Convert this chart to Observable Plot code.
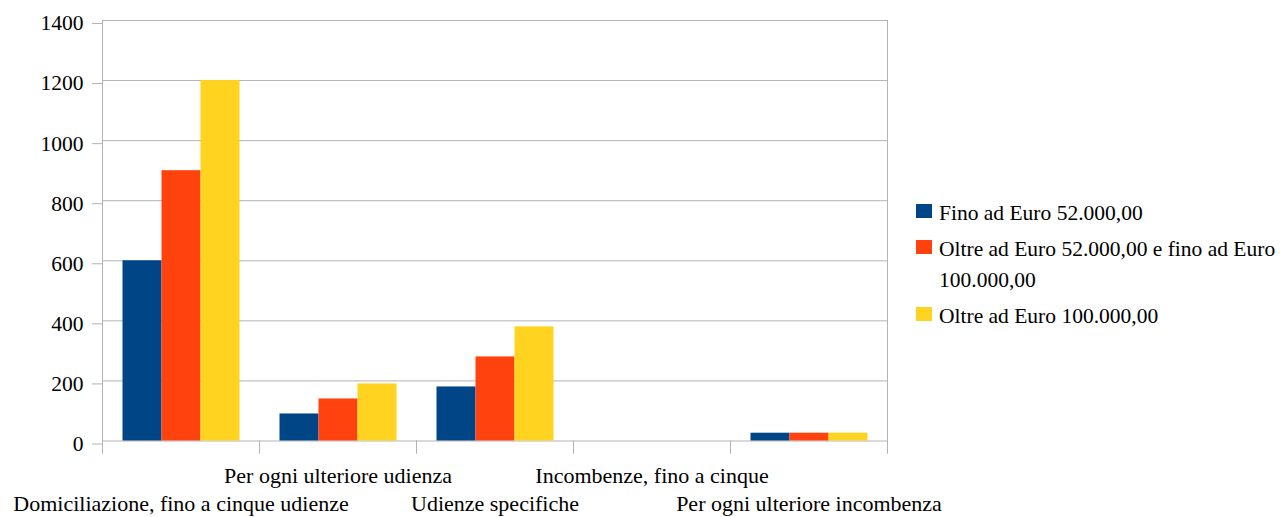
<!DOCTYPE html>
<html><head><meta charset="utf-8">
<script src="https://cdn.jsdelivr.net/npm/d3@7"></script>
<script src="https://cdn.jsdelivr.net/npm/@observablehq/plot@0.6"></script>
<style>
html,body{margin:0;padding:0;background:#fff;}
body{font-family:"Liberation Serif","Times New Roman","DejaVu Serif",serif;color:#000;}
#wrap{position:relative;width:1280px;height:517px;overflow:hidden;}
#chart svg, #chart svg text{font-family:"Liberation Serif","Times New Roman","DejaVu Serif",serif !important;}
#legend{position:absolute;left:916px;top:197.5px;width:364px;font-size:21.5px;line-height:31px;}
.item{display:flex;align-items:flex-start;margin-bottom:5px;}
.sw{width:15.5px;height:14px;margin-top:6.5px;margin-right:7.5px;flex:none;}
</style></head><body>
<div id="wrap"><div id="chart"></div><div id="legend"></div></div>
<script>
const categories = [
  "Domiciliazione, fino a cinque udienze",
  "Per ogni ulteriore udienza",
  "Udienze specifiche",
  "Incombenze, fino a cinque",
  "Per ogni ulteriore incombenza"
];
const series = [
  "Fino ad Euro 52.000,00",
  "Oltre ad Euro 52.000,00 e fino ad Euro 100.000,00",
  "Oltre ad Euro 100.000,00"
];
const fino52 = [600, 90, 180, 0, 26];
const oltre52 = [900, 140, 280, 0, 26];
const oltre100 = [1200, 190, 380, 0, 26];
const colors = ["#004586", "#ff420e", "#ffd320"];
const yTicks = [0, 200, 400, 600, 800, 1000, 1200, 1400];

const values = [fino52, oltre52, oltre100];
const data = [];
categories.forEach((c, i) => series.forEach((s, j) => data.push({category: c, series: s, value: values[j][i]})));

const W = 1280, H = 517;
const mL = 100.5, mR = W - 887.5, mT = 20, mB = H - 440.5;
const plotH = H - mT - mB;
const grey = "#b3b3b3";
const rowOf = (d) => categories.indexOf(d) % 2;
const FONT = "'Liberation Serif', 'Times New Roman', 'DejaVu Serif', serif";

const chart = Plot.plot({
  width: W, height: H,
  marginLeft: mL, marginRight: mR, marginTop: mT, marginBottom: mB,
  style: {fontFamily: FONT, fontSize: "21px", color: "#000", background: "#fff", overflow: "visible"},
  fx: {domain: categories, padding: 0, label: null},
  x: {domain: series, paddingInner: 0, paddingOuter: 0.49, axis: null},
  y: {domain: [0, 1400], label: null},
  color: {domain: series, range: colors},
  marks: [
    Plot.gridY(yTicks, {stroke: grey, strokeOpacity: 1}),
    Plot.frame({anchor: "left", insetTop: plotH, insetBottom: -12, stroke: grey, strokeOpacity: 1}),
    Plot.frame({anchor: "right", insetTop: plotH, insetBottom: -12, stroke: grey, strokeOpacity: 1}),
    Plot.frame({facet: "super", anchor: "left", insetBottom: -12, stroke: grey, strokeOpacity: 1}),
    Plot.frame({facet: "super", anchor: "right", insetBottom: -12, stroke: grey, strokeOpacity: 1}),
    Plot.barY(data, {fx: "category", x: "series", y: "value", fill: "series"}),
    Plot.axisY({ticks: yTicks, tickFormat: (d) => String(d), tickSize: 10, tickPadding: 9, stroke: grey, strokeOpacity: 1, fill: "#000", fontSize: 21.5, fontFamily: FONT, dy: 3, label: null}),
    Plot.axisFx({anchor: "bottom", tickFormat: (d) => rowOf(d) === 1 ? d : "", tickSize: 0, tickPadding: 26, fill: "#000", fontSize: 22, fontFamily: FONT, label: null}),
    Plot.axisFx({anchor: "bottom", tickFormat: (d) => rowOf(d) === 0 ? d : "", tickSize: 0, tickPadding: 54.5, fill: "#000", fontSize: 22, fontFamily: FONT, label: null})
  ]
});
document.getElementById("chart").appendChild(chart);

const legend = document.getElementById("legend");
series.forEach((s, i) => {
  const item = document.createElement("div");
  item.className = "item";
  const sw = document.createElement("div");
  sw.className = "sw";
  sw.style.background = colors[i];
  const t = document.createElement("div");
  t.textContent = s;
  item.appendChild(sw);
  item.appendChild(t);
  legend.appendChild(item);
});
</script>
</body></html>
